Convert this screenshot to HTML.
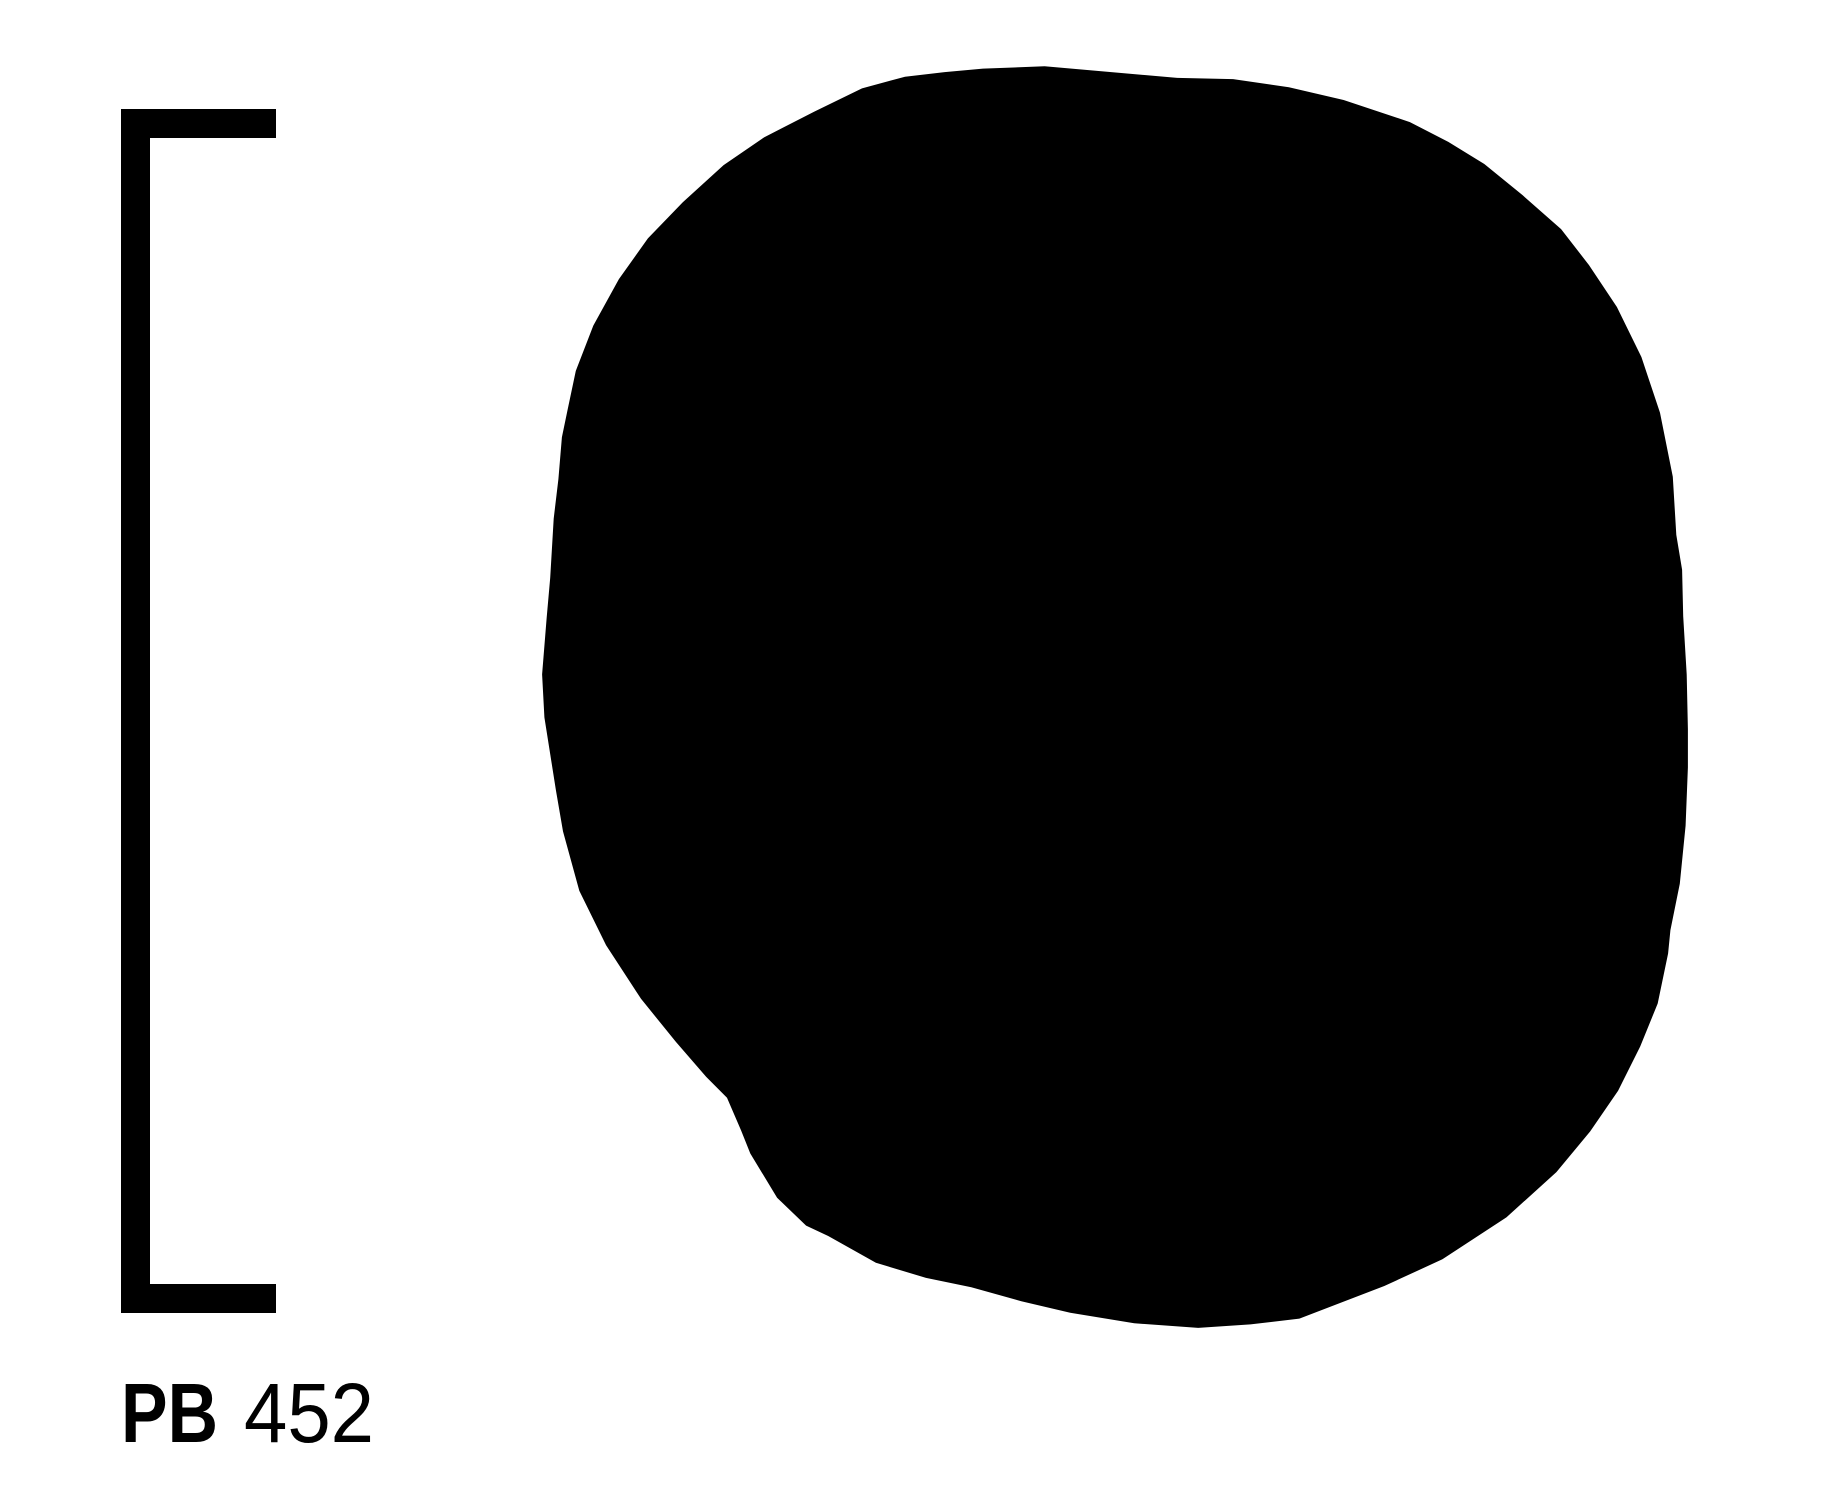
<!DOCTYPE html>
<html>
<head>
<meta charset="utf-8">
<style>
html,body{margin:0;padding:0;background:#fff;}
svg{display:block;}
</style>
</head>
<body>
<svg width="1824" height="1500" viewBox="0 0 1824 1500">
  <rect x="0" y="0" width="1824" height="1500" fill="#fff"/>
  <path d="M121 109 H276 V138 H150 V1284 H276 V1313 H121 Z" fill="#000"/>
  <polygon id="blob" fill="#000"/>
  <text x="121" y="1442" font-family="Liberation Sans, sans-serif" font-weight="bold" font-size="84" textLength="97" lengthAdjust="spacingAndGlyphs">PB</text>
  <text x="244" y="1442" font-family="Liberation Sans, sans-serif" font-size="84" textLength="130" lengthAdjust="spacingAndGlyphs">452</text>
</svg>
<script>
const blobX = [898,1012,1060,1108,1155,1212,1245,1276,1309,1342,1366,1390,1411,1427,1438,1441,1446,1447,1450,1451,1451,1449,1444,1436,1434,1425,1410,1391,1367,1338,1295,1240,1190,1117,1075,1030,975,920,878,835,796,753,712,693,668,645,637,625,607,581,551,521,498,484,478,468,466,470,473,476,480,483,488,495,510,532,557,587,622,657,700,741,778,812,845];
const blobY = [57,67,68,75,86,105,122,141,168,197,228,264,307,355,410,460,490,530,580,627,660,710,760,800,820,863,900,938,973,1008,1047,1083,1106,1134,1139,1142,1138,1129,1119,1107,1099,1086,1063,1054,1030,992,972,944,926,896,859,813,766,715,680,617,580,531,497,446,412,376,352,319,280,240,205,174,142,118,96,76,66,62,59];
const sx = 1824/1568, sy = 1500/1290;
const pts = blobX.map((x,i)=> (x*sx).toFixed(1)+','+(blobY[i]*sy).toFixed(1)).join(' ');
document.getElementById('blob').setAttribute('points', pts);
</script>
</body>
</html>
